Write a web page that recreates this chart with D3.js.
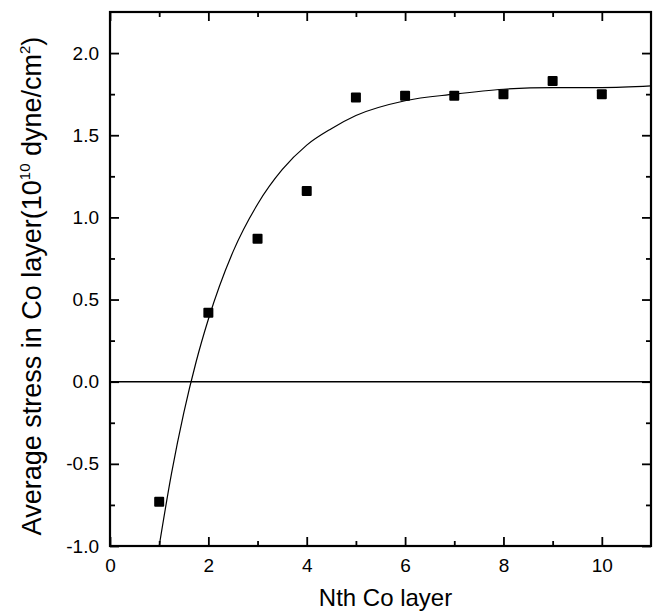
<!DOCTYPE html>
<html>
<head>
<meta charset="utf-8">
<script src="https://cdn.jsdelivr.net/npm/d3@7"></script>
<style>
  html, body { margin: 0; padding: 0; background: #fff; }
  svg { display: block; font-family: "Liberation Sans", Arial, Helvetica, sans-serif; }
</style>
</head>
<body>
<svg id="chart" width="656" height="614"></svg>
<script>
// Data
const layers = [1, 2, 3, 4, 5, 6, 7, 8, 9, 10];
const stress = [-0.73, 0.42, 0.87, 1.16, 1.73, 1.74, 1.74, 1.75, 1.83, 1.75];

// Fitted curve as drawn in the figure
const fitX = [1, 1.25, 1.5, 1.75, 2, 2.5, 3, 3.5, 4, 4.5, 5, 6, 7, 8, 9, 10, 11];
const fitY = [-1.0, -0.56, -0.19, 0.12, 0.38, 0.79, 1.08, 1.29, 1.44, 1.54, 1.62, 1.71, 1.75, 1.78, 1.79, 1.79, 1.80];

const xMajor = [0, 2, 4, 6, 8, 10];
const xMinor = [1, 3, 5, 7, 9];
const yMajor = [-1.0, -0.5, 0.0, 0.5, 1.0, 1.5, 2.0];
const yMinor = [-0.75, -0.25, 0.25, 0.75, 1.25, 1.75];

const xTitle = "Nth Co layer";

const svg = d3.select("#chart");
const pL = 110, pR = 651, pT = 12, pB = 546;

const x = d3.scaleLinear().domain([0, 11]).range([pL, pR]);
const y = d3.scaleLinear().domain([-1, 2.25]).range([pB, pT]);

const major = 9, minor = 5;
const fmtY = d => d.toFixed(1);

function styleAxis(g) {
  g.select(".domain").remove();
  g.selectAll(".tick line").attr("stroke", "#000").attr("stroke-width", 1.8);
  g.selectAll(".tick text").attr("fill", "#000")
    .style("font-size", "19px");
}

// Bottom axis
svg.append("g").attr("transform", `translate(0,${pB})`)
  .call(d3.axisBottom(x).tickValues(xMajor).tickSize(-major).tickPadding(13).tickFormat(d => String(d)))
  .call(styleAxis);
svg.append("g").attr("transform", `translate(0,${pB})`)
  .call(d3.axisBottom(x).tickValues(xMinor).tickSize(-minor).tickFormat(""))
  .call(styleAxis);
// Top axis
svg.append("g").attr("transform", `translate(0,${pT})`)
  .call(d3.axisTop(x).tickValues(xMajor).tickSize(-major).tickFormat(""))
  .call(styleAxis);
svg.append("g").attr("transform", `translate(0,${pT})`)
  .call(d3.axisTop(x).tickValues(xMinor).tickSize(-minor).tickFormat(""))
  .call(styleAxis);
// Left axis
svg.append("g").attr("transform", `translate(${pL},0)`)
  .call(d3.axisLeft(y).tickValues(yMajor).tickSize(-major).tickPadding(11).tickFormat(fmtY))
  .call(styleAxis);
svg.append("g").attr("transform", `translate(${pL},0)`)
  .call(d3.axisLeft(y).tickValues(yMinor).tickSize(-minor).tickFormat(""))
  .call(styleAxis);
// Right axis
svg.append("g").attr("transform", `translate(${pR},0)`)
  .call(d3.axisRight(y).tickValues(yMajor).tickSize(-major).tickFormat(""))
  .call(styleAxis);
svg.append("g").attr("transform", `translate(${pR},0)`)
  .call(d3.axisRight(y).tickValues(yMinor).tickSize(-minor).tickFormat(""))
  .call(styleAxis);

// Zero line
svg.append("line")
  .attr("x1", pL).attr("x2", pR)
  .attr("y1", y(0)).attr("y2", y(0))
  .attr("stroke", "#000").attr("stroke-width", 1.4);

// Clip
svg.append("clipPath").attr("id", "clip")
  .append("rect").attr("x", pL).attr("y", pT).attr("width", pR - pL).attr("height", pB - pT);

// Fit curve
const fitData = fitX.map((d, i) => [d, fitY[i]]);
svg.append("path")
  .datum(fitData)
  .attr("clip-path", "url(#clip)")
  .attr("fill", "none")
  .attr("stroke", "#000")
  .attr("stroke-width", 1.2)
  .attr("d", d3.line().x(d => x(d[0])).y(d => y(d[1])).curve(d3.curveMonotoneX));

// Data squares
const s = 10;
svg.append("g").selectAll("rect")
  .data(layers.map((d, i) => [d, stress[i]]))
  .join("rect")
  .attr("x", d => x(d[0]) - s / 2)
  .attr("y", d => y(d[1]) - s / 2)
  .attr("width", s).attr("height", s)
  .attr("rx", 1)
  .attr("fill", "#000");

// Frame
svg.append("rect")
  .attr("x", pL).attr("y", pT)
  .attr("width", pR - pL).attr("height", pB - pT)
  .attr("fill", "none").attr("stroke", "#000").attr("stroke-width", 2.2);

// X title
svg.append("text")
  .attr("x", (pL + pR) / 2 + 5)
  .attr("y", 606)
  .attr("text-anchor", "middle")
  .style("font-size", "24px")
  .text(xTitle);

// Y title with superscripts
const yt = svg.append("text")
  .attr("transform", `translate(41,${(pT + pB) / 2 + 7}) rotate(-90)`)
  .attr("text-anchor", "middle")
  .style("font-size", "27px");
yt.append("tspan").text("Average stress in Co layer(10");
yt.append("tspan").attr("dy", -11).style("font-size", "15px").text("10");
yt.append("tspan").attr("dy", 11).text(" dyne/cm");
yt.append("tspan").attr("dy", -11).style("font-size", "15px").text("2");
yt.append("tspan").attr("dy", 11).text(")");
</script>
</body>
</html>
